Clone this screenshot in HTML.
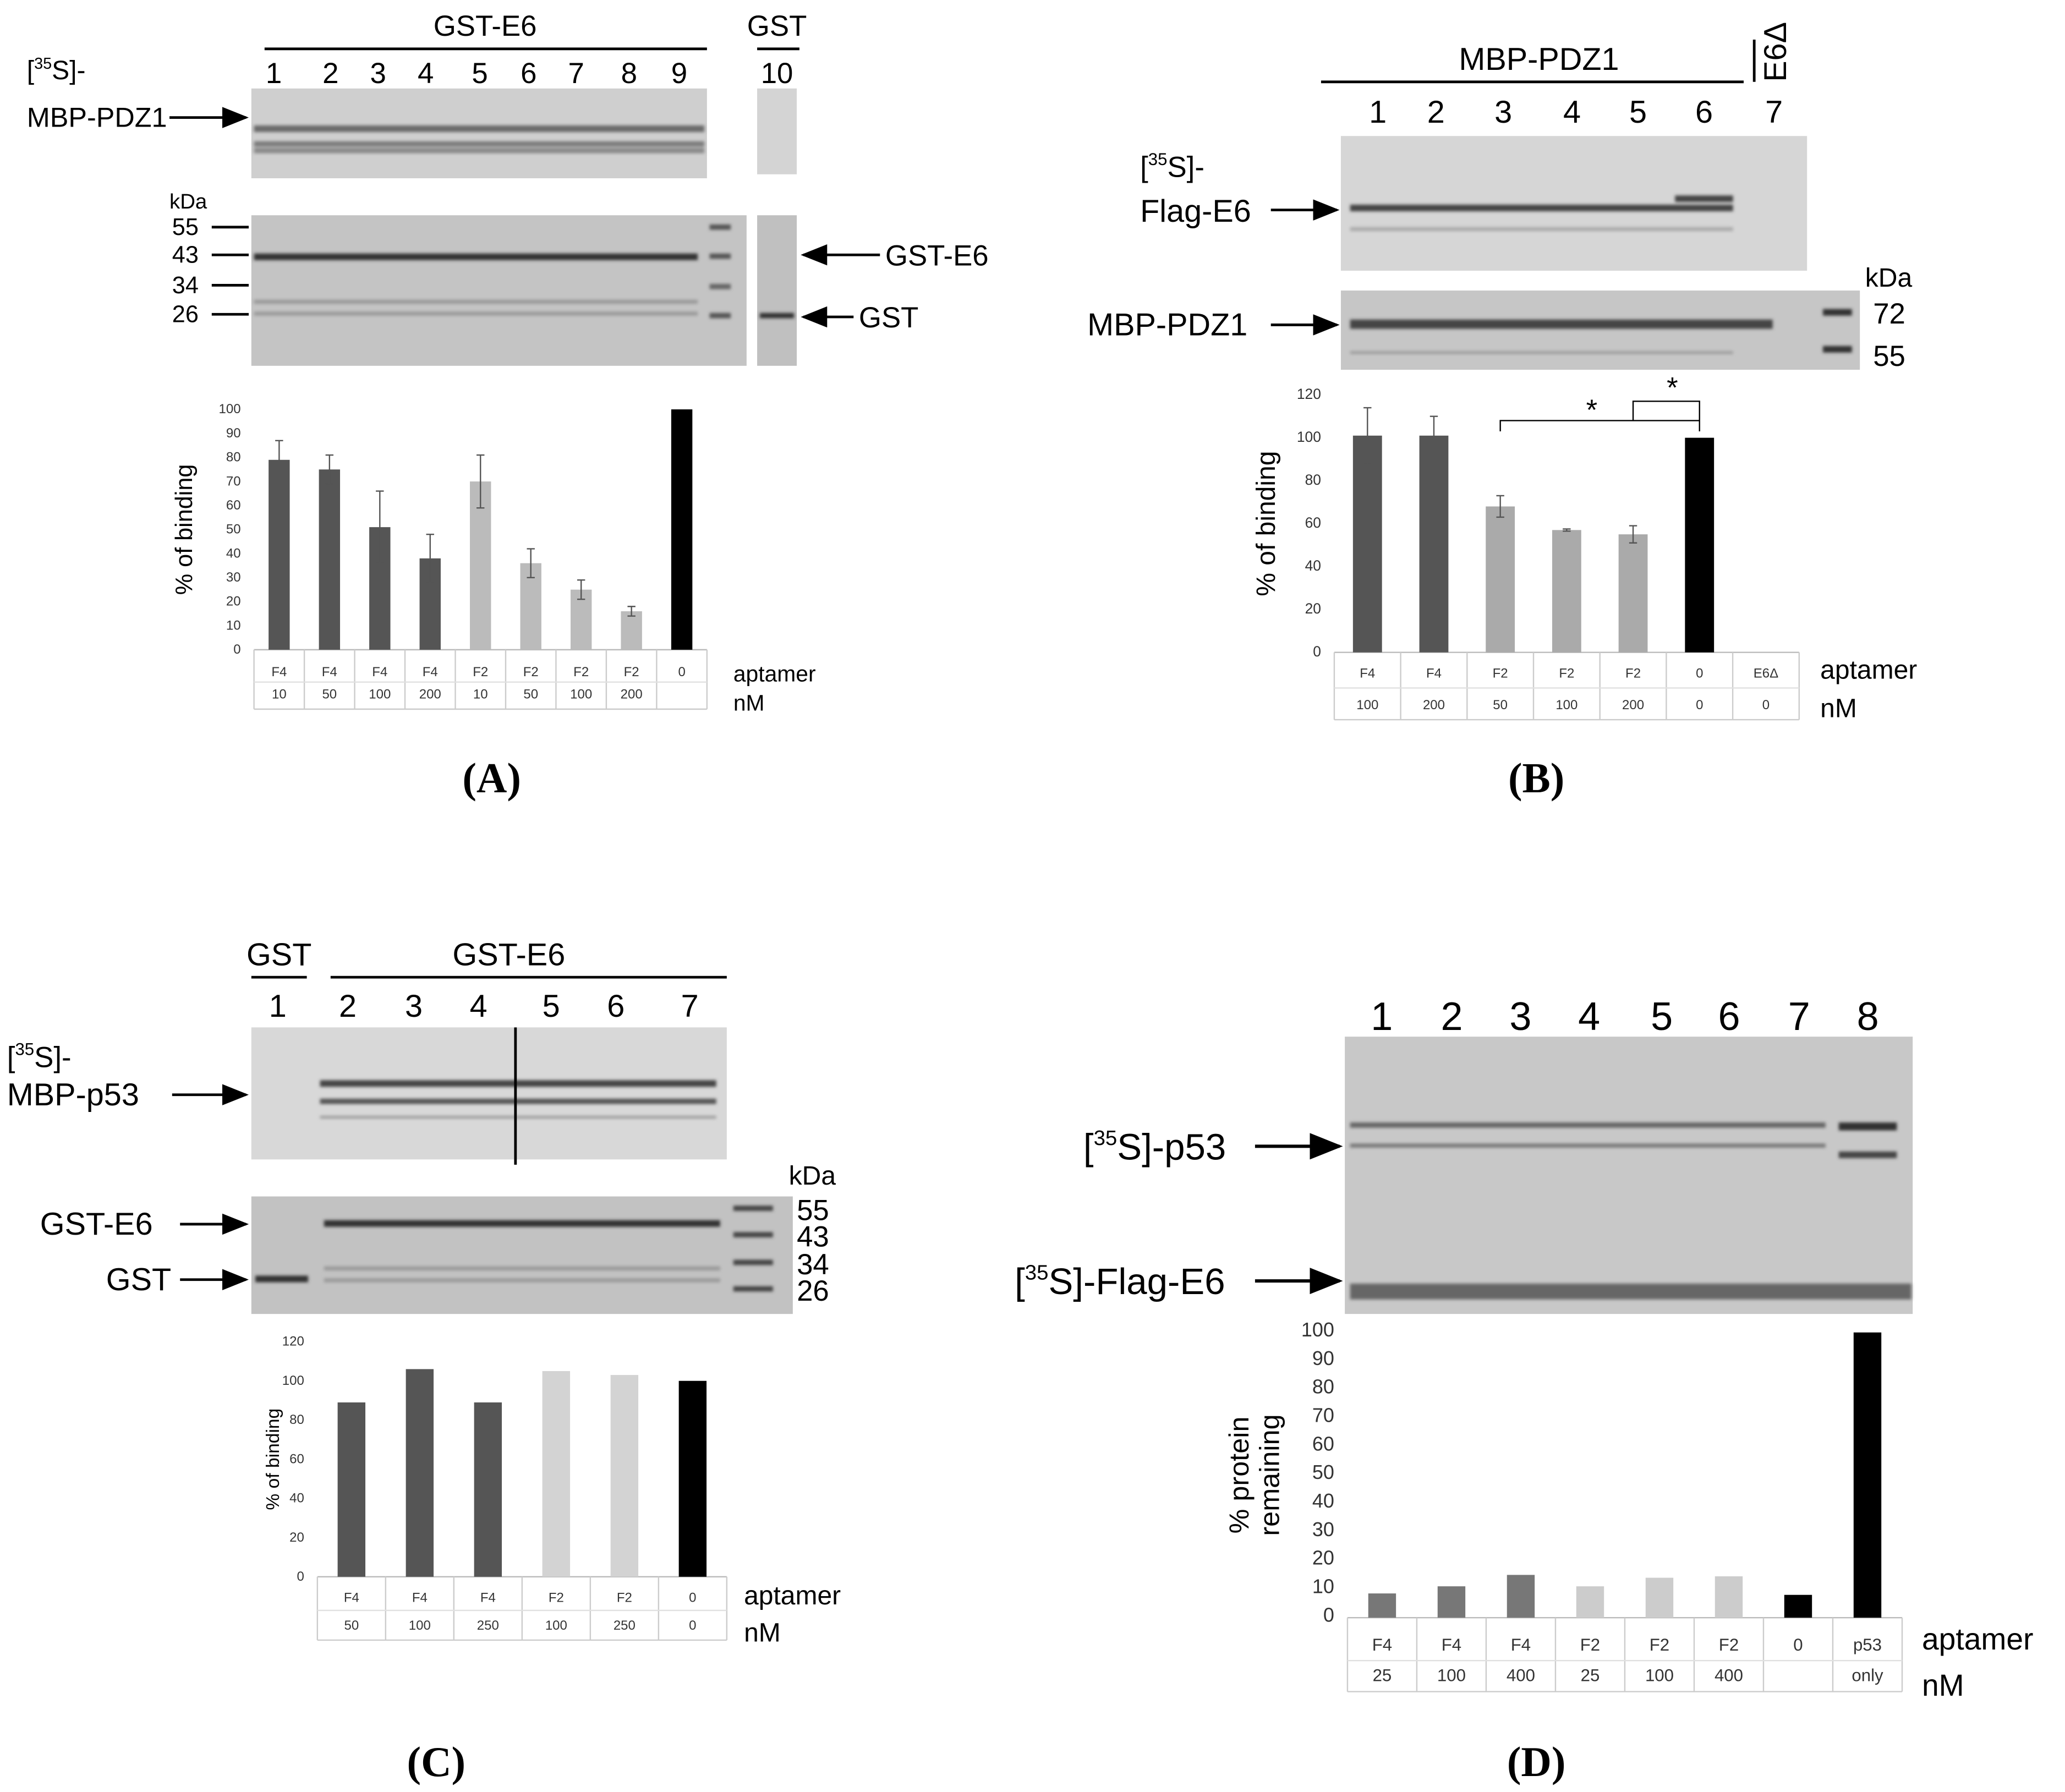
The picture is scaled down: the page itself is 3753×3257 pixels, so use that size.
<!DOCTYPE html>
<html><head><meta charset="utf-8">
<style>
html,body{margin:0;padding:0;background:#fff;}
svg{display:block;font-family:"Liberation Sans",sans-serif;}
.serif{font-family:"Liberation Serif",serif;font-weight:bold;}
</style></head>
<body>
<svg id="fig" width="3753" height="3257" viewBox="0 0 1563 1357" xmlns="http://www.w3.org/2000/svg">
<defs>
<marker id="ah" markerWidth="10" markerHeight="8" refX="9" refY="4" orient="auto"><path d="M0,0 L10,4 L0,8 Z" fill="#000"/></marker>
<filter id="bl"><feGaussianBlur stdDeviation="1.2"/></filter>
</defs>

<!-- PANEL A gels -->
<g>
<text x="367" y="27" font-size="22" text-anchor="middle">GST-E6</text>
<line x1="200" y1="37" x2="535" y2="37" stroke="#000" stroke-width="2"/>
<text x="588" y="27" font-size="22" text-anchor="middle">GST</text>
<line x1="573" y1="37" x2="605" y2="37" stroke="#000" stroke-width="2"/>
<g font-size="22" text-anchor="middle">
<text x="207" y="63">1</text><text x="250" y="63">2</text><text x="286" y="63">3</text><text x="322" y="63">4</text><text x="363" y="63">5</text><text x="400" y="63">6</text><text x="436" y="63">7</text><text x="476" y="63">8</text><text x="514" y="63">9</text><text x="588" y="63">10</text>
</g>
<rect x="190" y="67" width="345" height="68" fill="#cfcfcf"/>
<rect x="573" y="67" width="30" height="65" fill="#d4d4d4"/>
<g filter="url(#bl)" fill="#6a6a6a"><rect x="192" y="95" width="341" height="5"/><rect x="192" y="107" width="341" height="4" fill="#7a7a7a"/><rect x="192" y="112" width="341" height="4" fill="#888"/></g>
<text x="20" y="60" font-size="20">[<tspan font-size="12" dy="-8">35</tspan><tspan dy="8">S]-</tspan></text>
<text x="20" y="96" font-size="21">MBP-PDZ1</text>
<line x1="128" y1="89" x2="186" y2="89" stroke="#000" stroke-width="2" marker-end="url(#ah)"/>
<rect x="190" y="163" width="375" height="114" fill="#c4c4c4"/>
<rect x="573" y="163" width="30" height="114" fill="#c0c0c0"/>
<g filter="url(#bl)"><rect x="192" y="192" width="336" height="5" fill="#333"/><rect x="192" y="227" width="336" height="3" fill="#999"/><rect x="192" y="236" width="336" height="3" fill="#9a9a9a"/>
<rect x="537" y="170" width="16" height="4" fill="#555"/><rect x="537" y="192" width="16" height="4" fill="#555"/><rect x="537" y="215" width="16" height="4" fill="#666"/><rect x="537" y="237" width="16" height="4" fill="#555"/><rect x="575" y="237" width="26" height="4" fill="#333"/></g>
<text x="128" y="158" font-size="16">kDa</text>
<g font-size="18"><text x="130" y="178">55</text><text x="130" y="199">43</text><text x="130" y="222">34</text><text x="130" y="244">26</text></g>
<g stroke="#000" stroke-width="2"><line x1="160" y1="172" x2="188" y2="172"/><line x1="160" y1="193" x2="188" y2="193"/><line x1="160" y1="216" x2="188" y2="216"/><line x1="160" y1="238" x2="188" y2="238"/></g>
<line x1="666" y1="193" x2="608" y2="193" stroke="#000" stroke-width="2" marker-end="url(#ah)"/>
<text x="670" y="201" font-size="22">GST-E6</text>
<line x1="646" y1="240" x2="608" y2="240" stroke="#000" stroke-width="2" marker-end="url(#ah)"/>
<text x="650" y="248" font-size="22">GST</text>
</g>

<!-- PANEL B gels -->
<g>
<text x="1165" y="53" font-size="24" text-anchor="middle">MBP-PDZ1</text>
<line x1="1000" y1="62" x2="1320" y2="62" stroke="#000" stroke-width="2"/>
<line x1="1328" y1="30" x2="1328" y2="62" stroke="#000" stroke-width="2"/>
<text x="0" y="0" font-size="24" transform="translate(1352,62) rotate(-90)">E6Δ</text>
<g font-size="24" text-anchor="middle"><text x="1043" y="93">1</text><text x="1087" y="93">2</text><text x="1138" y="93">3</text><text x="1190" y="93">4</text><text x="1240" y="93">5</text><text x="1290" y="93">6</text><text x="1343" y="93">7</text></g>
<rect x="1015" y="103" width="353" height="102" fill="#d6d6d6"/>
<g filter="url(#bl)"><rect x="1022" y="155" width="290" height="5" fill="#444"/><rect x="1268" y="148" width="44" height="5" fill="#444"/><rect x="1022" y="172" width="290" height="3" fill="#aaa"/></g>
<text x="863" y="134" font-size="22">[<tspan font-size="13" dy="-9">35</tspan><tspan dy="9">S]-</tspan></text>
<text x="863" y="168" font-size="24">Flag-E6</text>
<line x1="962" y1="159" x2="1012" y2="159" stroke="#000" stroke-width="2" marker-end="url(#ah)"/>
<rect x="1015" y="220" width="393" height="60" fill="#c6c6c6"/>
<g filter="url(#bl)"><rect x="1022" y="242" width="320" height="7" fill="#444"/><rect x="1380" y="234" width="22" height="5" fill="#333"/><rect x="1380" y="262" width="22" height="5" fill="#333"/><rect x="1022" y="266" width="290" height="2" fill="#999"/></g>
<text x="1412" y="217" font-size="20">kDa</text>
<text x="1418" y="245" font-size="22">72</text><text x="1418" y="277" font-size="22">55</text>
<text x="823" y="254" font-size="24">MBP-PDZ1</text>
<line x1="962" y1="246" x2="1012" y2="246" stroke="#000" stroke-width="2" marker-end="url(#ah)"/>
</g>

<!-- PANEL C gels -->
<g>
<text x="211" y="731" font-size="24" text-anchor="middle">GST</text>
<line x1="190" y1="740" x2="232" y2="740" stroke="#000" stroke-width="2"/>
<text x="385" y="731" font-size="24" text-anchor="middle">GST-E6</text>
<line x1="250" y1="740" x2="550" y2="740" stroke="#000" stroke-width="2"/>
<g font-size="24" text-anchor="middle"><text x="210" y="770">1</text><text x="263" y="770">2</text><text x="313" y="770">3</text><text x="362" y="770">4</text><text x="417" y="770">5</text><text x="466" y="770">6</text><text x="522" y="770">7</text></g>
<rect x="190" y="778" width="360" height="100" fill="#d8d8d8"/>
<g filter="url(#bl)"><rect x="242" y="818" width="300" height="5" fill="#444"/><rect x="242" y="832" width="300" height="4" fill="#555"/><rect x="242" y="845" width="300" height="2" fill="#999"/></g>
<line x1="390" y1="778" x2="390" y2="882" stroke="#000" stroke-width="2"/>
<text x="5" y="808" font-size="22">[<tspan font-size="13" dy="-9">35</tspan><tspan dy="9">S]-</tspan></text>
<text x="5" y="837" font-size="24">MBP-p53</text>
<line x1="130" y1="829" x2="186" y2="829" stroke="#000" stroke-width="2" marker-end="url(#ah)"/>
<text x="597" y="897" font-size="20">kDa</text>
<rect x="190" y="906" width="410" height="89" fill="#c2c2c2"/>
<g filter="url(#bl)"><rect x="245" y="924" width="300" height="5" fill="#333"/><rect x="193" y="966" width="40" height="5" fill="#333"/><rect x="245" y="959" width="300" height="3" fill="#999"/><rect x="245" y="968" width="300" height="3" fill="#999"/>
<rect x="555" y="913" width="30" height="4" fill="#444"/><rect x="555" y="933" width="30" height="4" fill="#444"/><rect x="555" y="954" width="30" height="4" fill="#444"/><rect x="555" y="974" width="30" height="4" fill="#444"/></g>
<g font-size="22"><text x="603" y="924">55</text><text x="603" y="944">43</text><text x="603" y="965">34</text><text x="603" y="985">26</text></g>
<text x="30" y="935" font-size="24">GST-E6</text>
<line x1="136" y1="927" x2="186" y2="927" stroke="#000" stroke-width="2" marker-end="url(#ah)"/>
<text x="80" y="977" font-size="24">GST</text>
<line x1="136" y1="969" x2="186" y2="969" stroke="#000" stroke-width="2" marker-end="url(#ah)"/>
</g>

<!-- PANEL D gels -->
<g>
<g font-size="30" text-anchor="middle"><text x="1046" y="780">1</text><text x="1099" y="780">2</text><text x="1151" y="780">3</text><text x="1203" y="780">4</text><text x="1258" y="780">5</text><text x="1309" y="780">6</text><text x="1362" y="780">7</text><text x="1414" y="780">8</text></g>
<rect x="1018" y="785" width="430" height="210" fill="#c8c8c8"/>
<g filter="url(#bl)"><rect x="1022" y="850" width="360" height="4" fill="#666"/><rect x="1022" y="866" width="360" height="3" fill="#777"/><rect x="1392" y="850" width="44" height="6" fill="#333"/><rect x="1392" y="872" width="44" height="5" fill="#444"/><rect x="1022" y="972" width="425" height="12" fill="#666"/></g>
<text x="820" y="878" font-size="28">[<tspan font-size="16" dy="-11">35</tspan><tspan dy="11">S]-p53</tspan></text>
<line x1="950" y1="868" x2="1014" y2="868" stroke="#000" stroke-width="2.5" marker-end="url(#ah)"/>
<text x="768" y="980" font-size="28">[<tspan font-size="16" dy="-11">35</tspan><tspan dy="11">S]-Flag-E6</tspan></text>
<line x1="950" y1="970" x2="1014" y2="970" stroke="#000" stroke-width="2.5" marker-end="url(#ah)"/>
</g>

<g class="serif" font-size="32" text-anchor="middle">
<text x="372" y="600">(A)</text><text x="1163" y="600">(B)</text><text x="330" y="1345">(C)</text><text x="1163" y="1345">(D)</text>
</g>
<g id="charts"></g>
</svg>
<script>
// Chart A
const catA1 = ["F4","F4","F4","F4","F2","F2","F2","F2","0"];
const catA2 = ["10","50","100","200","10","50","100","200",""];
const valA = [79,75,51,38,70,36,25,16,100];
const errA = [8,6,15,10,11,6,4,2,0];
const colA = ["#555","#555","#555","#555","#bbb","#bbb","#bbb","#bbb","#000"];
const ticksA = [0,10,20,30,40,50,60,70,80,90,100];
// Chart B
const catB1 = ["F4","F4","F2","F2","F2","0","E6Δ"];
const catB2 = ["100","200","50","100","200","0","0"];
const valB = [101,101,68,57,55,100,0];
const errB = [13,9,5,0.5,4,0,0];
const colB = ["#555","#555","#aaa","#aaa","#aaa","#000","#000"];
const ticksB = [0,20,40,60,80,100,120];
// Chart C
const catC1 = ["F4","F4","F4","F2","F2","0"];
const catC2 = ["50","100","250","100","250","0"];
const valC = [89,106,89,105,103,100];
const colC = ["#555","#555","#555","#d3d3d3","#d3d3d3","#000"];
const ticksC = [0,20,40,60,80,100,120];
// Chart D
const catD1 = ["F4","F4","F4","F2","F2","F2","0","p53"];
const catD2 = ["25","100","400","25","100","400","","only"];
const valD = [8.5,11,15,11,14,14.5,8,100];
const colD = ["#777","#777","#777","#ccc","#ccc","#ccc","#000","#000"];
const ticksD = [0,10,20,30,40,50,60,70,80,90,100];

const NS="http://www.w3.org/2000/svg";
const root=document.getElementById('charts');
function mk(tag,attrs,parent,txt){const e=document.createElementNS(NS,tag);for(const k in attrs)e.setAttribute(k,attrs[k]);if(txt!==undefined)e.textContent=txt;parent.appendChild(e);return e;}

function chart(o){
  const g=mk('g',{},root);
  
  
  const ymax=o.ticks[o.ticks.length-1];
  const y=v=>o.y0-(v/ymax)*(o.y0-o.yTop);
  const n=o.vals.length, w=(o.x1-o.x0)/n;
  const x=i=>o.x0+w*(i+0.5);
  mk('line',{x1:o.x0,y1:o.y0,x2:o.x1,y2:o.y0,stroke:'#bbb','stroke-width':1},g);
  o.ticks.forEach(t=>{const tl=mk('text',{x:o.x0-10,y:y(t)+3,'font-size':o.tfs,'text-anchor':'end',fill:'#333'},g,String(t));
    
    });
  o.vals.forEach((v,i)=>{
    const b=mk('rect',{x:x(i)-o.bw/2,y:y(v),width:o.bw,height:o.y0-y(v),fill:o.cols[i]},g);
    
    
    if(o.errs&&o.errs[i]>0){
      const eb=mk('path',{d:`M${x(i)},${y(v+o.errs[i])}V${y(v-o.errs[i])}M${x(i)-3},${y(v+o.errs[i])}h6M${x(i)-3},${y(v-o.errs[i])}h6`,stroke:'#555','stroke-width':1,fill:'none'},g);
      
      
    }
    mk('text',{x:x(i),y:o.r1,'font-size':o.cfs,'text-anchor':'middle',fill:'#333'},g,o.c1[i]);
    mk('text',{x:x(i),y:o.r2,'font-size':o.cfs,'text-anchor':'middle',fill:'#333'},g,o.c2[i]);
  });
  for(let i=0;i<=n;i++) mk('line',{x1:o.x0+w*i,y1:o.y0,x2:o.x0+w*i,y2:o.r2+8,stroke:'#ccc','stroke-width':1},g);
  mk('line',{x1:o.x0,y1:(o.r1+o.r2)/2-4,x2:o.x1,y2:(o.r1+o.r2)/2-4,stroke:'#e0e0e0','stroke-width':1},g);
  mk('line',{x1:o.x0,y1:o.r2+8,x2:o.x1,y2:o.r2+8,stroke:'#ccc','stroke-width':1},g);
  const a=mk('text',{x:o.ax,y:o.ay,'font-size':o.afs},g,'aptamer');
  
  
  const nm=mk('text',{x:o.ax,y:o.ny,'font-size':o.afs},g,'nM');
  
  
  const cy=(o.y0+o.yTop)/2;
  const yt=mk('text',{x:0,y:0,'font-size':o.yfs,'text-anchor':'middle',transform:`translate(${o.yx},${cy}) rotate(-90)`},g);
  
  
  o.ytitle.forEach((s,k)=>mk('tspan',{x:0,dy:k?o.yfs*1.1:0},yt,s));
  return {x,y,g};
}
chart({name:'chart-a',vals:valA,errs:errA,cols:colA,ticks:ticksA,c1:catA1,c2:catA2,x0:192,x1:535,y0:492,yTop:310,bw:16,tfs:10,cfs:10,r1:512,r2:529,ax:555,ay:516,ny:538,afs:17,yx:145,yfs:18,ytitle:['% of binding']});
const B=chart({name:'chart-b',vals:valB,errs:errB,cols:colB,ticks:ticksB,c1:catB1,c2:catB2,x0:1010,x1:1362,y0:494,yTop:299,bw:22,tfs:11,cfs:10,r1:513,r2:537,ax:1378,ay:514,ny:543,afs:20,yx:965,yfs:20,ytitle:['% of binding']});
const br=mk('path',{d:`M${B.x(2)},${B.y(103)}V${B.y(108)}H${B.x(5)}V${B.y(103)}M${B.x(4)},${B.y(108)}V${B.y(117)}H${B.x(5)}V${B.y(108)}`,stroke:'#000','stroke-width':1,fill:'none'},B.g);


mk('text',{x:1205,y:318,'font-size':22,'text-anchor':'middle'},B.g,'*');
mk('text',{x:1266,y:301,'font-size':22,'text-anchor':'middle'},B.g,'*');
chart({name:'chart-c',vals:valC,cols:colC,ticks:ticksC,c1:catC1,c2:catC2,x0:240,x1:550,y0:1194,yTop:1016,bw:21,tfs:10,cfs:10,r1:1213,r2:1234,ax:563,ay:1215,ny:1243,afs:20,yx:211,yfs:14,ytitle:['% of binding']});
chart({name:'chart-d',vals:valD,cols:colD,ticks:ticksD,c1:catD1,c2:catD2,x0:1020,x1:1440,y0:1225,yTop:1009,bw:21,tfs:15,cfs:13,r1:1250,r2:1273,ax:1455,ay:1249,ny:1284,afs:23,yx:945,yfs:21,ytitle:['% protein','remaining']});
</script>
</body></html>
